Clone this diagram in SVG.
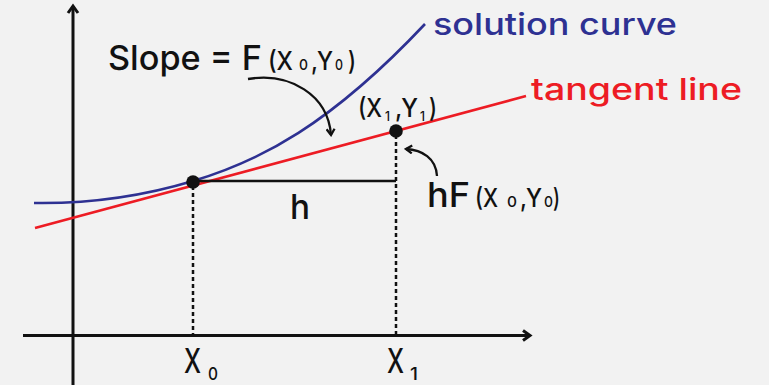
<svg xmlns="http://www.w3.org/2000/svg" width="769" height="385" viewBox="0 0 769 385">
<defs>
<style>
text{font-family:Inter,"DejaVu Sans","Liberation Sans",sans-serif;font-weight:500;fill:#111}
.ax{stroke:#111;stroke-width:3;fill:none}
.dash{stroke:#111;stroke-width:2.5;stroke-dasharray:4 3;fill:none}
.arr{stroke:#111;stroke-width:2.3;fill:none}
.b{font-size:34px}
.m{font-size:26px}
.s{font-size:15px}
</style>
<marker id="ah" viewBox="0 0 10 10" refX="8" refY="5" markerWidth="10" markerHeight="10" markerUnits="userSpaceOnUse" orient="auto">
<path d="M2,1 L8,5 L2,9" fill="none" stroke="#111" stroke-width="2.3"/>
</marker>
</defs>
<rect width="769" height="385" fill="#f2f2f2"/>
<g id="axes">
<line class="ax" x1="73" y1="6" x2="73" y2="385"/>
<polyline class="ax" points="68,13 73,6 78,13" stroke-linejoin="miter"/>
<line class="ax" x1="23" y1="335.5" x2="530" y2="335.5"/>
<polyline class="ax" points="523,330.5 530,335.5 523,340.5" stroke-linejoin="miter"/>
</g>
<g id="curves">
<path d="M34,203 C100,204 150,194 193,181 C260,161 330,125 425,24" fill="none" stroke="#2e3192" stroke-width="2.6"/>
<line x1="35" y1="228" x2="526" y2="96" stroke="#ed1c24" stroke-width="2.6"/>
</g>
<g id="connectors">
<line class="dash" x1="193" y1="186" x2="193" y2="335"/>
<line class="dash" x1="396" y1="135" x2="396" y2="335"/>
<polyline points="193,181 396,181" fill="none" stroke="#111" stroke-width="2.3"/>
<path class="arr" d="M248,79 C290,72 328,95 331,135" marker-end="url(#ah)"/>
<path class="arr" d="M437,176 C436,158 422,150 406,149" marker-end="url(#ah)"/>
</g>
<g id="p0"><circle cx="193" cy="182" r="6.8" fill="#111"/></g>
<g id="p1"><circle cx="396" cy="131" r="6.8" fill="#111"/></g>
<g id="label-slope">
<text class="b" x="108" y="70" textLength="154" lengthAdjust="spacingAndGlyphs">Slope = F</text>
<text class="m" x="268" y="70" textLength="25" lengthAdjust="spacingAndGlyphs">(X</text>
<text class="s" x="299" y="70" textLength="9" lengthAdjust="spacingAndGlyphs">0</text>
<text class="m" x="311" y="70" textLength="22" lengthAdjust="spacingAndGlyphs">,Y</text>
<text class="s" x="335" y="70" textLength="8" lengthAdjust="spacingAndGlyphs">0</text>
<text class="m" x="348" y="70" textLength="8" lengthAdjust="spacingAndGlyphs">)</text>
</g>
<g id="label-solution">
<text x="433" y="35" textLength="244" lengthAdjust="spacingAndGlyphs" style="font-size:30px;fill:#2e3192">solution curve</text>
</g>
<g id="label-tangent">
<text x="531" y="100" textLength="211" lengthAdjust="spacingAndGlyphs" style="font-size:30px;fill:#ed1c24">tangent line</text>
</g>
<g id="label-p1">
<text class="m" x="358" y="117" textLength="24" lengthAdjust="spacingAndGlyphs">(X</text>
<text x="385" y="121" textLength="5" lengthAdjust="spacingAndGlyphs" style="font-size:13px">1</text>
<text class="m" x="395" y="117" textLength="23" lengthAdjust="spacingAndGlyphs">,Y</text>
<text x="420" y="121" textLength="5" lengthAdjust="spacingAndGlyphs" style="font-size:13px">1</text>
<text class="m" x="429" y="117" textLength="8" lengthAdjust="spacingAndGlyphs">)</text>
</g>
<g id="label-hf">
<text class="b" x="427" y="207" textLength="43" lengthAdjust="spacingAndGlyphs">hF</text>
<text class="m" x="475" y="207" textLength="23" lengthAdjust="spacingAndGlyphs">(X</text>
<text class="s" x="507" y="207" textLength="10" lengthAdjust="spacingAndGlyphs">0</text>
<text class="m" x="520" y="207" textLength="22" lengthAdjust="spacingAndGlyphs">,Y</text>
<text class="s" x="544" y="207" textLength="9" lengthAdjust="spacingAndGlyphs">0</text>
<text class="m" x="553" y="207" textLength="7" lengthAdjust="spacingAndGlyphs">)</text>
</g>
<g id="label-h">
<text class="b" x="290" y="219" textLength="20" lengthAdjust="spacingAndGlyphs">h</text>
</g>
<g id="label-x0">
<text class="b" x="184" y="373" textLength="17" lengthAdjust="spacingAndGlyphs">X</text>
<text x="208" y="380" textLength="10" lengthAdjust="spacingAndGlyphs" style="font-size:17px">0</text>
</g>
<g id="label-x1">
<text class="b" x="387" y="373" textLength="17" lengthAdjust="spacingAndGlyphs">X</text>
<text x="410" y="380" textLength="8" lengthAdjust="spacingAndGlyphs" style="font-size:17px">1</text>
</g>
</svg>
